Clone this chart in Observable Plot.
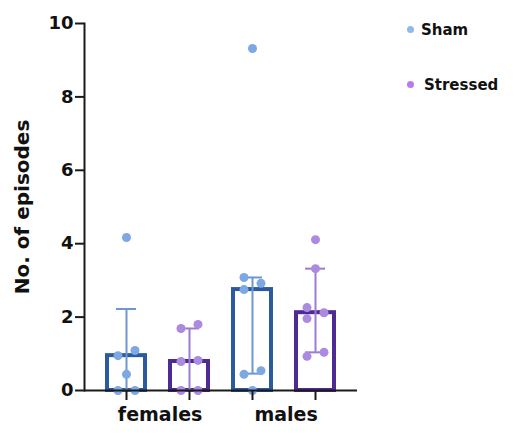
<!DOCTYPE html>
<html><head><meta charset="utf-8">
<script src="https://cdn.jsdelivr.net/npm/d3@7"></script>
<script src="https://cdn.jsdelivr.net/npm/@observablehq/plot@0.6"></script>
<style>
body{margin:0;background:#fff;font-family:"DejaVu Sans",sans-serif;}
#wrap{position:relative;width:516px;height:435px;}
.leg{position:absolute;font-weight:bold;font-size:15px;color:#111;white-space:nowrap;font-family:"DejaVu Sans",sans-serif;}
.dot{position:absolute;width:7px;height:7px;border-radius:50%;}
</style></head><body><div id="wrap"></div>
<script>
// ---- data ----
const sexes = ["females", "males"];
const conditions = ["Sham", "Stressed"];
const barSham = [0.95, 2.75];
const barStressed = [0.79, 2.12];
const errLowSham = [0, 0.46];
const errHighSham = [2.22, 3.08];
const errLowStressed = [0, 1.04];
const errHighStressed = [1.69, 3.32];
const ptsFemalesSham = [4.17, 1.09, 0.95, 0.44, 0, 0];
const ptsFemalesStressed = [1.80, 1.69, 0.82, 0.79, 0, 0];
const ptsMalesSham = [9.32, 3.08, 2.92, 2.75, 0.54, 0.44, 0];
const ptsMalesStressed = [4.11, 3.32, 2.26, 2.12, 1.96, 1.04, 0.93];
const yTicks = [0, 2, 4, 6, 8, 10];
const yLabel = "No. of episodes";

// ---- styling ----
const barColor = {Sham: "#2c5a9f", Stressed: "#4e2a93"};
const errColor = {Sham: "#6f95d3", Stressed: "#9b7cd2"};
const ptColor = {Sham: "#7ea8e2", Stressed: "#ab8ae0"};
const legColor = {Sham: "#8ebbec", Stressed: "#b67bf0"};
const font = "'DejaVu Sans', sans-serif";

// ---- tables ----
const key = (s, c) => s + "|" + c;
const keys = sexes.flatMap(s => conditions.map(c => key(s, c)));
const bars = [], errs = [];
sexes.forEach((s, i) => {
  bars.push({k: key(s, "Sham"), c: "Sham", v: barSham[i]});
  bars.push({k: key(s, "Stressed"), c: "Stressed", v: barStressed[i]});
  errs.push({k: key(s, "Sham"), c: "Sham", lo: errLowSham[i], hi: errHighSham[i]});
  errs.push({k: key(s, "Stressed"), c: "Stressed", lo: errLowStressed[i], hi: errHighStressed[i]});
});
const ptSets = [
  ["females", "Sham", ptsFemalesSham], ["females", "Stressed", ptsFemalesStressed],
  ["males", "Sham", ptsMalesSham], ["males", "Stressed", ptsMalesStressed]
];
// side placement: sort ascending, cluster close values, alternate left/right within clusters
const points = [];
for (const [s, c, vals] of ptSets) {
  const sorted = vals.slice().sort((a, b) => a - b);
  const clusters = [];
  for (const v of sorted) {
    const last = clusters[clusters.length - 1];
    if (last && v - last[last.length - 1] < 0.3) last.push(v); else clusters.push([v]);
  }
  for (const cl of clusters) {
    cl.forEach((v, j) => {
      const side = cl.length === 1 ? 0 : (j % 2 === 0 ? -1 : 1);
      points.push({k: key(s, c), c, v, side});
    });
  }
}

const W = 516, H = 435, mL = 84, mR = 159, mT = 23, mB = 45;
const pIn = 0.34, pOut = 0.33;
const step = (W - mL - mR) / (keys.length - pIn + 2 * pOut);
const off = 8.5;

const chart = Plot.plot({
  width: W, height: H,
  marginLeft: mL, marginRight: mR, marginTop: mT, marginBottom: mB,
  style: {fontFamily: font, fontWeight: "bold", fontSize: "18px", color: "#111", background: "white"},
  x: {type: "band", domain: keys, paddingInner: pIn, paddingOuter: pOut, axis: null},
  y: {domain: [0, 10], axis: null},
  marks: [
    Plot.barY(bars, {x: "k", y: "v", fill: "white", stroke: d => barColor[d.c], strokeWidth: 4, insetLeft: 2, insetRight: 2}),
    Plot.ruleX(errs, {x: "k", y1: "lo", y2: "hi", stroke: d => errColor[d.c], strokeWidth: 2}),
    Plot.tickY(errs, {x: "k", y: "hi", stroke: d => errColor[d.c], strokeWidth: 2, insetLeft: 11, insetRight: 11}),
    Plot.tickY(errs, {x: "k", y: "lo", stroke: d => errColor[d.c], strokeWidth: 2, insetLeft: 11, insetRight: 11}),
    Plot.dot(points.filter(d => d.side === 0), {x: "k", y: "v", r: 4.5, fill: d => ptColor[d.c]}),
    Plot.dot(points.filter(d => d.side < 0), {x: "k", y: "v", r: 4.5, dx: -off, fill: d => ptColor[d.c]}),
    Plot.dot(points.filter(d => d.side > 0), {x: "k", y: "v", r: 4.5, dx: off, fill: d => ptColor[d.c]}),
    Plot.ruleY([0], {stroke: "#1a1a1a", strokeWidth: 2}),
    Plot.frame({anchor: "left", stroke: "#1a1a1a", strokeWidth: 2}),
    Plot.axisX({ticks: keys, tickFormat: () => "", tickSize: 10, stroke: "#1a1a1a", strokeWidth: 2, label: null}),
    Plot.text(sexes, {x: d => key(d, "Sham"), dx: step / 2 + 2, frameAnchor: "bottom", dy: 30, text: d => d, fontSize: 19, fontWeight: "bold", fill: "#111"}),
    Plot.axisY({ticks: yTicks, tickSize: 9, tickPadding: 2, stroke: "#1a1a1a", strokeWidth: 2, fontSize: 18, fontWeight: "bold", fill: "#111",
      label: yLabel, labelAnchor: "center", labelArrow: false, labelOffset: 70})
  ]
});
// make the axis label larger than the tick labels
chart.querySelectorAll("text").forEach(t => {
  if (t.textContent.trim() === yLabel) t.style.fontSize = "20px";
});
const wrap = document.getElementById("wrap");
wrap.appendChild(chart);

const legend = [
  {c: "Sham", dotX: 407, dotY: 26, tx: 421, ty: 21},
  {c: "Stressed", dotX: 407, dotY: 81, tx: 424, ty: 76}
];
for (const l of legend) {
  const d = document.createElement("div");
  d.className = "dot"; d.style.left = l.dotX + "px"; d.style.top = l.dotY + "px"; d.style.background = legColor[l.c];
  wrap.appendChild(d);
  const t = document.createElement("div");
  t.className = "leg"; t.style.left = l.tx + "px"; t.style.top = l.ty + "px"; t.textContent = l.c;
  wrap.appendChild(t);
}
</script></body></html>
